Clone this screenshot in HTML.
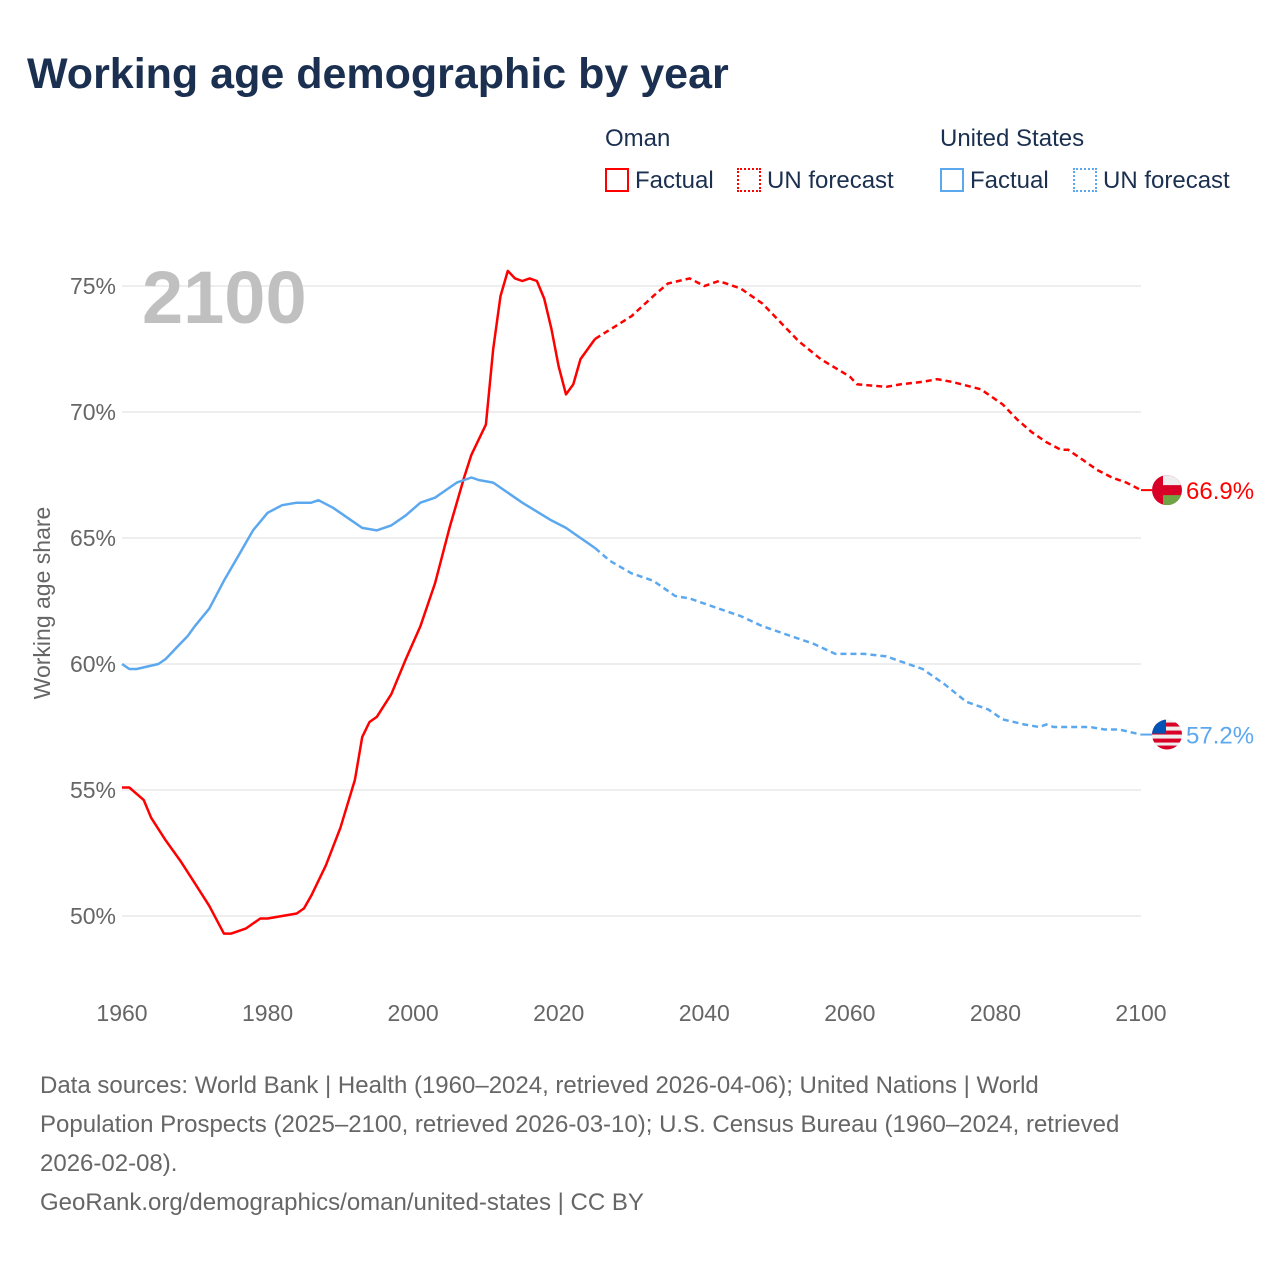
<!DOCTYPE html>
<html><head><meta charset="utf-8"><style>
body{margin:0;background:#fff;font-family:"Liberation Sans",sans-serif;}
#wrap{position:relative;width:1280px;height:1280px;overflow:hidden;}
.t{position:absolute;white-space:nowrap;}
</style></head><body>
<div id="wrap">
<div class="t" style="left:27px;top:50px;font-size:43px;font-weight:bold;color:#1b3050;">Working age demographic by year</div>
<div class="t" style="left:605px;top:125px;font-size:24px;color:#1b3050;">Oman</div>
<div class="t" style="left:940px;top:125px;font-size:24px;color:#1b3050;">United States</div>
<div class="t" style="left:605px;top:167px;font-size:24px;color:#1b3050;"><span style="display:inline-block;width:24px;height:24px;border:2px solid #f00;vertical-align:-4px;margin-right:6px;box-sizing:border-box"></span>Factual</div>
<div class="t" style="left:737px;top:167px;font-size:24px;color:#1b3050;"><span style="display:inline-block;width:24px;height:24px;border:2px dotted #f00;vertical-align:-4px;margin-right:6px;box-sizing:border-box"></span>UN forecast</div>
<div class="t" style="left:940px;top:167px;font-size:24px;color:#1b3050;"><span style="display:inline-block;width:24px;height:24px;border:2px solid #5ca8ef;vertical-align:-4px;margin-right:6px;box-sizing:border-box"></span>Factual</div>
<div class="t" style="left:1073px;top:167px;font-size:24px;color:#1b3050;"><span style="display:inline-block;width:24px;height:24px;border:2px dotted #5ca8ef;vertical-align:-4px;margin-right:6px;box-sizing:border-box"></span>UN forecast</div>
<svg id="chart" width="1280" height="1280" style="position:absolute;left:0;top:0"></svg>
<div class="t" style="left:40px;top:1066px;font-size:24px;line-height:39px;color:#666;">Data sources: World Bank | Health (1960–2024, retrieved 2026-04-06); United Nations | World<br>Population Prospects (2025–2100, retrieved 2026-03-10); U.S. Census Bureau (1960–2024, retrieved<br>2026-02-08).<br>GeoRank.org/demographics/oman/united-states | CC BY</div>
</div>
<script>
const yTicks=[50,55,60,65,70,75];
const xTicks=[1960,1980,2000,2020,2040,2060,2080,2100];
const omanYears=[1960,1961,1963,1964,1966,1968,1970,1972,1974,1975,1977,1979,1980,1982,1984,1985,1986,1988,1990,1992,1993,1994,1995,1997,1999,2001,2003,2005,2007,2008,2010,2011,2012,2013,2014,2015,2016,2017,2018,2019,2020,2021,2022,2023,2024,2025,2030,2033,2035,2038,2040,2042,2045,2048,2050,2053,2056,2060,2061,2065,2067,2070,2072,2074,2078,2081,2083,2085,2087,2089,2090,2092,2094,2096,2098,2100];
const omanValues=[55.1,55.1,54.6,53.9,53.0,52.2,51.3,50.4,49.3,49.3,49.5,49.9,49.9,50.0,50.1,50.3,50.8,52.0,53.5,55.4,57.1,57.7,57.9,58.8,60.2,61.5,63.2,65.4,67.4,68.3,69.5,72.5,74.6,75.6,75.3,75.2,75.3,75.2,74.5,73.3,71.8,70.7,71.1,72.1,72.5,72.9,73.8,74.6,75.1,75.3,75.0,75.2,74.9,74.3,73.7,72.8,72.1,71.4,71.1,71.0,71.1,71.2,71.3,71.2,70.9,70.3,69.7,69.2,68.8,68.5,68.5,68.1,67.7,67.4,67.2,66.9];
const usYears=[1960,1961,1962,1965,1966,1968,1969,1970,1972,1974,1976,1978,1980,1982,1984,1986,1987,1989,1991,1993,1995,1997,1999,2001,2003,2005,2006,2008,2009,2011,2015,2019,2021,2023,2024,2025,2027,2030,2033,2036,2038,2042,2045,2048,2052,2055,2058,2062,2065,2068,2070,2073,2076,2079,2081,2084,2086,2087,2088,2093,2095,2097,2100];
const usValues=[60.0,59.8,59.8,60.0,60.2,60.8,61.1,61.5,62.2,63.3,64.3,65.3,66.0,66.3,66.4,66.4,66.5,66.2,65.8,65.4,65.3,65.5,65.9,66.4,66.6,67.0,67.2,67.4,67.3,67.2,66.4,65.7,65.4,65.0,64.8,64.6,64.1,63.6,63.3,62.7,62.6,62.2,61.9,61.5,61.1,60.8,60.4,60.4,60.3,60.0,59.8,59.2,58.5,58.2,57.8,57.6,57.5,57.6,57.5,57.5,57.4,57.4,57.2];
const lastFactual=2024;
const X=y=>122+(y-1960)*(1141-122)/140;
const Y=v=>916-(v-50)*(630/25);
const svg=document.getElementById('chart');
const NS='http://www.w3.org/2000/svg';
function mk(tag,attrs){const e=document.createElementNS(NS,tag);for(const k in attrs)e.setAttribute(k,attrs[k]);svg.appendChild(e);return e;}
yTicks.forEach(v=>{
 const g=mk('line',{x1:122,x2:1141,y1:Y(v),y2:Y(v),stroke:'#e8e8e8','stroke-width':1.5});
 
 
 const t=mk('text',{x:116,y:Y(v)+8,'text-anchor':'end','font-size':23,fill:'#666','font-family':'Liberation Sans, sans-serif'});
 t.textContent=v+'%';
 
 
});
xTicks.forEach(y=>{
 const t=mk('text',{x:X(y),y:1021,'text-anchor':'middle','font-size':23,fill:'#666','font-family':'Liberation Sans, sans-serif'});
 t.textContent=y;
 
 
});
const yt=mk('text',{x:0,y:0,transform:'translate(50,603) rotate(-90)','text-anchor':'middle','font-size':23,fill:'#666','font-family':'Liberation Sans, sans-serif'});
yt.textContent='Working age share';


const yr=mk('text',{x:142,y:323,'font-size':74,'font-weight':'bold',fill:'#c0c0c0','font-family':'Liberation Sans, sans-serif'});
yr.textContent='2100';


function series(years,vals,color,name){
 const f=[],p=[];
 years.forEach((y,i)=>{const pt=X(y).toFixed(1)+','+Y(vals[i]).toFixed(1);if(y<=lastFactual+1)f.push(pt);if(y>=lastFactual+1)p.push(pt);});
 const a=mk('polyline',{points:f.join(' '),fill:'none',stroke:color,'stroke-width':2.5,'stroke-linejoin':'round'});
 
 
 const b=mk('polyline',{points:p.join(' '),fill:'none',stroke:color,'stroke-width':2.5,'stroke-dasharray':'6 4'});
 
 
}
series(omanYears,omanValues,'#ff0000','oman');
series(usYears,usValues,'#5ca8ef','us');
function endLabel(val,color,name,flag){
 const cy=Y(val);
 const ln=mk('line',{x1:1141,x2:1152,y1:cy,y2:cy,stroke:color,'stroke-width':2});
 
 
 const g=document.createElementNS(NS,'g');svg.appendChild(g);
 
 
 g.innerHTML=flag(1167,cy);
 const t=mk('text',{x:1186,y:cy+9,'font-size':24,fill:color,'font-family':'Liberation Sans, sans-serif'});
 t.textContent=val.toFixed(1)+'%';
 
 
}
endLabel(omanValues[omanValues.length-1],'#ff0000','oman',(x,y)=>`<clipPath id="co"><circle cx="${x}" cy="${y}" r="15"/></clipPath><g clip-path="url(#co)"><rect x="${x-15}" y="${y-15}" width="30" height="30" fill="#d80027"/><rect x="${x-4}" y="${y-15}" width="19" height="10" fill="#eee"/><rect x="${x-4}" y="${y+5}" width="19" height="10" fill="#6da544"/></g>`);
endLabel(usValues[usValues.length-1],'#5ca8ef','us',(x,y)=>`<clipPath id="cu"><circle cx="${x}" cy="${y}" r="15"/></clipPath><g clip-path="url(#cu)"><rect x="${x-15}" y="${y-15}" width="30" height="30" fill="#eee"/><rect x="${x-15}" y="${y-12}" width="30" height="4" fill="#d80027"/><rect x="${x-15}" y="${y-4}" width="30" height="4" fill="#d80027"/><rect x="${x-15}" y="${y+4}" width="30" height="4" fill="#d80027"/><rect x="${x-15}" y="${y+11}" width="30" height="4" fill="#d80027"/><rect x="${x-15}" y="${y-15}" width="14" height="14" fill="#0052b4"/></g>`);
</script>
</body></html>
